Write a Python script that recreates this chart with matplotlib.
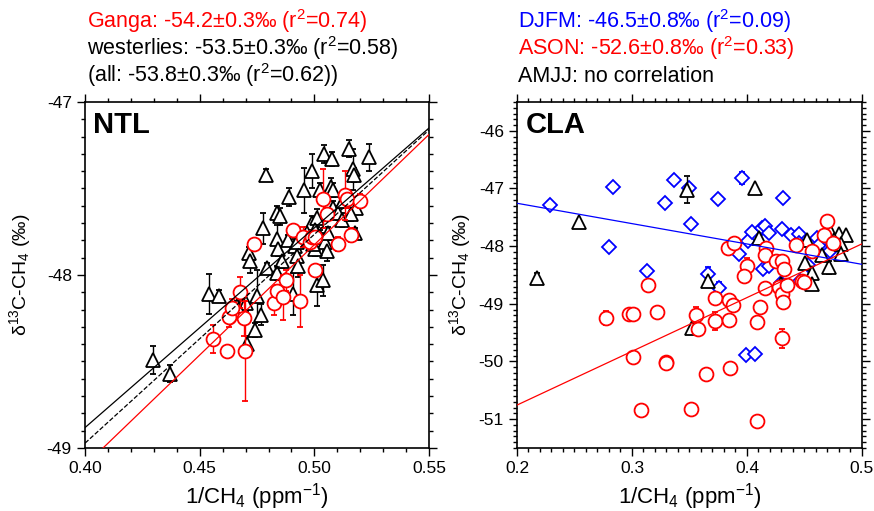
import numpy as np
import matplotlib.pyplot as plt
from matplotlib.ticker import MultipleLocator

plt.rcParams['font.family'] = ['Liberation Sans', 'DejaVu Sans']
plt.rcParams['mathtext.fontset'] = 'custom'
plt.rcParams['mathtext.rm'] = 'Liberation Sans'
plt.rcParams['mathtext.it'] = 'Liberation Sans:italic'
plt.rcParams['mathtext.bf'] = 'Liberation Sans:bold'
plt.rcParams['axes.unicode_minus'] = False

########## NTL : westerlies (black triangles)
ntl_w_x = [0.4298, 0.4371, 0.4541, 0.4586, 0.4715, 0.4719, 0.4775, 0.4788, 0.4792, 0.4751,
           0.4766, 0.4741, 0.4702, 0.4661, 0.4705, 0.4839, 0.4850, 0.4839, 0.4843, 0.4858,
           0.4839, 0.4891, 0.4887, 0.4908, 0.4916, 0.4923, 0.4930, 0.4926, 0.4955, 0.4988,
           0.4988, 0.5013, 0.5036, 0.5044, 0.5076, 0.5071, 0.5083, 0.5025, 0.5013, 0.5003,
           0.5025, 0.5047, 0.5057, 0.5061, 0.5083, 0.5105, 0.5126, 0.5119, 0.5153, 0.5167,
           0.5173, 0.5182, 0.5158, 0.5177, 0.5237, 0.5003, 0.4967, 0.4996]
ntl_w_y = [-48.49, -48.57, -48.11, -48.12, -47.87, -47.92, -47.73, -47.42, -47.96, -48.12,
           -48.23, -48.32, -48.16, -48.18, -48.40, -47.64, -47.66, -47.79, -47.85, -47.92,
           -47.99, -47.55, -47.80, -48.11, -47.83, -47.89, -47.95, -47.81, -47.51, -47.40,
           -47.70, -48.06, -48.03, -47.30, -47.33, -47.49, -47.51, -47.51, -47.67, -47.74,
           -47.78, -47.81, -47.86, -47.76, -47.61, -47.64, -47.57, -47.68, -47.27, -47.39,
           -47.42, -47.61, -47.65, -47.76, -47.32, -47.85, -47.76, -47.82]
ntl_w_err = [0.08, 0.05, 0.115, 0.035, 0.03, 0.07, 0.09, 0.03, 0.03, 0.15,
             0.06, 0.04, 0.05, 0.03, 0.05, 0.04, 0.05, 0.08, 0.04, 0.04,
             0.04, 0.05, 0.03, 0.12, 0.04, 0.04, 0.06, 0.04, 0.13, 0.10,
             0.04, 0.12, 0.09, 0.05, 0.04, 0.05, 0.04, 0.04, 0.05, 0.04,
             0.04, 0.05, 0.06, 0.04, 0.04, 0.04, 0.04, 0.04, 0.05, 0.12,
             0.04, 0.04, 0.04, 0.03, 0.08, 0.04, 0.04, 0.04]

########## NTL : Ganga (red circles)
ntl_g_x = [0.4557, 0.4618, 0.4629, 0.4640, 0.4676, 0.4695, 0.4698, 0.4737, 0.4824, 0.4836,
           0.4862, 0.4875, 0.4906, 0.4937, 0.4949, 0.4981, 0.4988, 0.5003, 0.5003, 0.5036,
           0.5054, 0.5105, 0.5134, 0.5141, 0.5160, 0.5199]
ntl_g_y = [-48.37, -48.44, -48.24, -48.19, -48.10, -48.25, -48.44, -47.82, -48.16, -48.09,
           -48.13, -48.03, -47.74, -48.15, -47.78, -47.81, -47.78, -47.78, -47.97, -47.56,
           -47.65, -47.82, -47.54, -47.56, -47.77, -47.57]
ntl_g_err = [0.08, 0.01, 0.06, 0.05, 0.09, 0.10, 0.29, 0.02, 0.07, 0.03,
             0.13, 0.06, 0.03, 0.15, 0.06, 0.03, 0.03, 0.03, 0.03, 0.17,
             0.04, 0.04, 0.14, 0.05, 0.04, 0.04]

# regression lines: intercept, slope
ntl_fit_intercept = [-54.2, -53.5, -53.8]
ntl_fit_slope = [12.75, 11.545, 12.07]
ntl_fit_color = ['red', 'black', 'black']
ntl_fit_style = ['-', '-', '--']

########## CLA : DJFM (blue diamonds)
cla_d_x = [0.2285, 0.2831, 0.2799, 0.3287, 0.3368, 0.3496, 0.3513, 0.3127, 0.3664, 0.3745,
           0.3757, 0.3934, 0.3960, 0.4007, 0.4047, 0.4129, 0.4158, 0.4196, 0.4138, 0.4196,
           0.4312, 0.4309, 0.4381, 0.4457, 0.4463, 0.4535, 0.4608, 0.4637, 0.4724, 0.3992,
           0.4071, 0.4294, 0.4457, 0.4680]
cla_d_y = [-47.29, -46.97, -48.01, -47.26, -46.85, -46.99, -47.62, -48.43, -48.49, -47.18,
           -48.73, -48.14, -46.82, -47.91, -47.76, -47.68, -47.65, -47.77, -48.39, -48.35,
           -47.17, -47.71, -47.81, -47.79, -48.61, -48.32, -47.86, -47.97, -48.09, -49.88,
           -49.87, -48.64, -47.94, -47.86]
cla_d_err = [0.02, 0.02, 0.02, 0.02, 0.02, 0.02, 0.02, 0.02, 0.12, 0.02,
             0.11, 0.02, 0.11, 0.02, 0.02, 0.02, 0.02, 0.02, 0.02, 0.02,
             0.02, 0.02, 0.02, 0.02, 0.02, 0.02, 0.02, 0.02, 0.02, 0.02,
             0.02, 0.02, 0.02, 0.02]

########## CLA : AMJJ (black triangles)
cla_a_x = [0.2177, 0.2540, 0.3475, 0.4071, 0.4108, 0.3658, 0.3519, 0.4521, 0.4507, 0.4564,
           0.4564, 0.4718, 0.4797, 0.4864, 0.4820, 0.4820, 0.4710, 0.4652, 0.4755, 0.4300]
cla_a_y = [-48.55, -47.58, -47.02, -46.99, -47.85, -48.60, -49.42, -47.89, -48.29, -48.47,
           -48.66, -47.74, -47.79, -47.80, -47.97, -48.14, -48.37, -48.15, -47.90, -48.66]
cla_a_err = [0.09, 0.02, 0.23, 0.02, 0.02, 0.04, 0.02, 0.02, 0.03, 0.02,
             0.02, 0.02, 0.02, 0.02, 0.02, 0.08, 0.11, 0.02, 0.02, 0.02]

########## CLA : ASON (red circles)
cla_s_x = [0.2778, 0.2973, 0.3011, 0.3141, 0.3214, 0.3011, 0.3077, 0.3295, 0.3300, 0.3510,
           0.3644, 0.3557, 0.3577, 0.3722, 0.3722, 0.3844, 0.3882, 0.3844, 0.3853, 0.3833,
           0.3891, 0.4004, 0.3975, 0.4085, 0.4085, 0.4114, 0.4158, 0.4164, 0.4158, 0.4254,
           0.4303, 0.4318, 0.4283, 0.4303, 0.4312, 0.4347, 0.4303, 0.4428, 0.4477, 0.4498,
           0.4564, 0.4672, 0.4695, 0.4747]
cla_s_y = [-49.24, -49.18, -49.18, -48.67, -49.14, -49.92, -50.84, -50.01, -50.02, -50.83,
           -50.22, -49.19, -49.43, -48.90, -49.30, -48.93, -49.02, -49.28, -50.12, -48.04,
           -47.94, -48.35, -48.52, -51.04, -49.31, -49.06, -48.73, -48.04, -48.16, -48.25,
           -48.26, -48.40, -48.70, -48.83, -48.96, -48.68, -49.60, -47.98, -48.61, -48.62,
           -48.09, -47.80, -47.56, -47.94]
cla_s_err = [0.12, 0.02, 0.02, 0.02, 0.02, 0.02, 0.02, 0.02, 0.02, 0.02,
             0.02, 0.13, 0.02, 0.02, 0.16, 0.02, 0.02, 0.02, 0.02, 0.02,
             0.02, 0.14, 0.02, 0.02, 0.02, 0.02, 0.02, 0.02, 0.02, 0.02,
             0.02, 0.02, 0.02, 0.02, 0.02, 0.02, 0.16, 0.02, 0.02, 0.02,
             0.02, 0.02, 0.02, 0.02]

cla_fit_intercept = [-46.55, -52.62]
cla_fit_slope = [-3.53, 9.32]
cla_fit_color = ['blue', 'red']

ylabel = r'δ$^{13}$C-CH$_4$ (‰)'
xlabel = r'1/CH$_4$ (ppm$^{-1}$)'

##################################
fig = plt.figure(figsize=(8.74, 5.11), dpi=100)
ax1 = fig.add_axes([0.0973, 0.1233, 0.3936, 0.6771])
ax2 = fig.add_axes([0.5915, 0.1233, 0.3947, 0.6771])


def style_axes(ax, xmaj, xmin, ymaj, ymin):
    ax.xaxis.set_major_locator(MultipleLocator(xmaj))
    ax.xaxis.set_minor_locator(MultipleLocator(xmin))
    ax.yaxis.set_major_locator(MultipleLocator(ymaj))
    ax.yaxis.set_minor_locator(MultipleLocator(ymin))
    ax.tick_params(which='both', direction='out', top=True, right=True, labelsize=12.5, width=1)
    ax.tick_params(which='major', length=6)
    ax.tick_params(which='minor', length=3)
    for sp in ax.spines.values():
        sp.set_linewidth(1.2)


mk = dict(linestyle='none', markerfacecolor='white', markeredgewidth=1.3,
          elinewidth=1.0, capsize=2.5, capthick=1.0)

# ---- NTL
ax1.errorbar(ntl_w_x, ntl_w_y, yerr=ntl_w_err, marker='^', markersize=9.5,
             color='black', zorder=2, **mk)
ax1.errorbar(ntl_g_x, ntl_g_y, yerr=ntl_g_err, marker='o', markersize=10,
             color='red', zorder=3, **mk)
ax1.set_xlim(0.40, 0.55)
ax1.set_ylim(-49, -47)
xx = np.array(ax1.get_xlim())
for a, b, c, ls in zip(ntl_fit_intercept, ntl_fit_slope, ntl_fit_color, ntl_fit_style):
    ax1.plot(xx, a + b * xx, color=c, linestyle=ls, linewidth=0.9, zorder=4)
style_axes(ax1, 0.05, 0.01, 1, 0.1)
ax1.xaxis.set_major_formatter(plt.FormatStrFormatter('%.2f'))
ax1.text(0.023, 0.91, 'NTL', transform=ax1.transAxes, fontsize=21, fontweight='bold')

# ---- CLA
ax2.errorbar(cla_d_x, cla_d_y, yerr=cla_d_err, marker='D', markersize=7.5,
             color='blue', zorder=2, **mk)
ax2.errorbar(cla_a_x, cla_a_y, yerr=cla_a_err, marker='^', markersize=9.5,
             color='black', zorder=2.5, **mk)
ax2.errorbar(cla_s_x, cla_s_y, yerr=cla_s_err, marker='o', markersize=10,
             color='red', zorder=3, **mk)
ax2.set_xlim(0.2, 0.5)
ax2.set_ylim(-51.5, -45.5)
xx = np.array(ax2.get_xlim())
for a, b, c in zip(cla_fit_intercept, cla_fit_slope, cla_fit_color):
    ax2.plot(xx, a + b * xx, color=c, linewidth=0.9, zorder=4)
style_axes(ax2, 0.1, 0.01, 1, 0.1)
ax2.xaxis.set_major_formatter(plt.FormatStrFormatter('%.1f'))
ax2.text(0.026, 0.91, 'CLA', transform=ax2.transAxes, fontsize=21, fontweight='bold')

for ax, lx in ((ax1, -0.15), (ax2, -0.127)):
    ax.set_ylabel(ylabel, fontsize=14)
    ax.yaxis.set_label_coords(lx, 0.5)
    ax.set_xlabel(xlabel, fontsize=16)
    ax.xaxis.set_label_coords(0.5, -0.095)

# ---- headers
hs = 15.5
fig.text(0.0995, 0.945, r'Ganga: -54.2±0.3‰ (r$^2$=0.74)', color='red', fontsize=hs)
fig.text(0.0995, 0.892, r'westerlies: -53.5±0.3‰ (r$^2$=0.58)', color='black', fontsize=hs)
fig.text(0.0995, 0.840, r'(all: -53.8±0.3‰ (r$^2$=0.62))', color='black', fontsize=hs)
fig.text(0.593, 0.945, r'DJFM: -46.5±0.8‰ (r$^2$=0.09)', color='blue', fontsize=hs)
fig.text(0.593, 0.892, r'ASON: -52.6±0.8‰ (r$^2$=0.33)', color='red', fontsize=hs)
fig.text(0.593, 0.840, 'AMJJ: no correlation', color='black', fontsize=hs)

fig.savefig('out.png', dpi=100)
